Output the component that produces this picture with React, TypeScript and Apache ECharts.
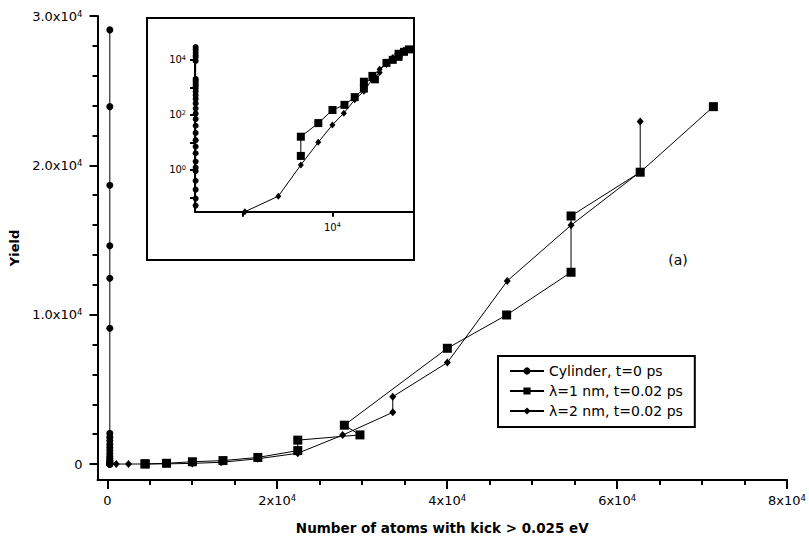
import React, { useEffect, useRef } from 'react';
import * as echarts from 'echarts';

const FONT = 'DejaVu Sans';

// Cylinder, t=0 ps
const cylinderX = [300, 300, 300, 300, 300, 300, 300, 300, 300, 300, 300, 300, 300, 300, 300, 300, 300, 300, 300, 300, 300, 300, 300, 300, 300, 300, 300, 300, 300, 300, 300];
const cylinderY = [29070, 23930, 18670, 14620, 12440, 9090, 2050, 1800, 1550, 1300, 1100, 900, 700, 520, 380, 260, 170, 110, 70, 40, 22, 12, 7, 4, 2, 1.2, 0.9, 0.4, 0.19, 0.09, 0.05];

// λ=1 nm, t=0.02 ps
const lambda1X = [4450, 4450, 6970, 10020, 13620, 17720, 22420, 22420, 29740, 27900, 40020, 47000, 54580, 54580, 62720, 71330];
const lambda1Y = [3.2, 16, 50, 150, 230, 440, 900, 1600, 1950, 2600, 7750, 9980, 12840, 16610, 19540, 23930];

// λ=2 nm, t=0.02 ps
const lambda2X = [1060, 2500, 4450, 6950, 10000, 13400, 17700, 22420, 27700, 33600, 33600, 40020, 47070, 54580, 62720, 62720];
const lambda2Y = [0.03, 0.11, 1.5, 10, 43, 115, 350, 720, 1940, 3460, 4510, 6790, 12260, 15990, 19560, 22930];

const seriesNames = ['Cylinder, t=0 ps', 'λ=1 nm, t=0.02 ps', 'λ=2 nm, t=0.02 ps'];

// Main axes ticks / labels
const xTickValues = [0, 20000, 40000, 60000, 80000];
const xTickLabels = ['0', '2x10^4', '4x10^4', '6x10^4', '8x10^4'];
const xMinorTickValues = [5000, 10000, 15000, 25000, 30000, 35000, 45000, 50000, 55000, 65000, 70000, 75000];
const yTickValues = [0, 10000, 20000, 30000];
const yTickLabels = ['0', '1.0x10^4', '2.0x10^4', '3.0x10^4'];
const yMinorTickValues = [2000, 4000, 6000, 8000, 12000, 14000, 16000, 18000, 22000, 24000, 26000, 28000];

// Inset (log-log) ticks / labels
const insetXTickValues = [1000, 10000];
const insetXLabelValues = [10000];
const insetXLabels = ['10^4'];
const insetYTickValues = [0.1, 1, 10, 100, 1000, 10000];
const insetYLabelValues = [1, 100, 10000];
const insetYLabels = ['10^0', '10^2', '10^4'];

const xAxisName = 'Number of atoms with kick > 0.025 eV';
const yAxisName = 'Yield';
const panelLabel = '(a)';

function toRich(label: string): string {
  const m = label.match(/^(.*)\^(-?\d+)$/);
  if (!m) return `{b|${label}}`;
  return `{b|${m[1]}}{s|${m[2]}}`;
}

function makeFormatter(values: number[], labels: string[]) {
  return (v: number) => {
    for (let i = 0; i < values.length; i++) {
      if (Math.abs(values[i] - v) <= Math.abs(values[i]) * 1e-6 + 1e-9) return toRich(labels[i]);
    }
    return '';
  };
}

function zip(xs: number[], ys: number[]) {
  return xs.map((x, i) => [x, ys[i]]);
}

const mainRich = {
  b: { fontFamily: FONT, fontSize: 13, color: '#000', lineHeight: 14 },
  s: { fontFamily: FONT, fontSize: 8.5, color: '#000', verticalAlign: 'top', lineHeight: 8 },
};
const insetRich = {
  b: { fontFamily: FONT, fontSize: 10, color: '#000', lineHeight: 11 },
  s: { fontFamily: FONT, fontSize: 6.5, color: '#000', verticalAlign: 'top', lineHeight: 6 },
};

const black = '#000';

export default function App() {
  const ref = useRef<HTMLDivElement>(null);

  useEffect(() => {
    document.body.style.margin = '0';
    if (!ref.current) return;
    const chart = echarts.init(ref.current, undefined, { renderer: 'svg' });

    const symbols = ['circle', 'rect', 'diamond'];
    const mainSizes: any[] = [7, 9, [7, 8]];
    const insetSizes: any[] = [6, 8, [6, 7]];
    const datasets = [
      zip(cylinderX, cylinderY),
      zip(lambda1X, lambda1Y),
      zip(lambda2X, lambda2Y),
    ];

    const mainSeries = datasets.map((d, i) => ({
      type: 'line',
      name: seriesNames[i],
      xAxisIndex: 0,
      yAxisIndex: 0,
      data: d,
      symbol: symbols[i],
      symbolSize: mainSizes[i],
      showAllSymbol: true,
      lineStyle: { color: black, width: 1 },
      itemStyle: { color: black },
      color: black,
      silent: true,
      emphasis: { disabled: true },
      z: 3,
    }));

    const insetSeries = datasets.map((d, i) => ({
      type: 'line',
      name: seriesNames[i] + ' (inset)',
      xAxisIndex: 2,
      yAxisIndex: 2,
      data: d.filter((p) => p[0] > 0 && p[1] > 0),
      symbol: symbols[i],
      symbolSize: insetSizes[i],
      showAllSymbol: true,
      lineStyle: { color: black, width: 1 },
      itemStyle: { color: black },
      color: black,
      silent: true,
      emphasis: { disabled: true },
      z: 3,
    }));

    const axisLineStyle = { color: black, width: 2 };

    const option: any = {
      animation: false,
      backgroundColor: '#fff',
      textStyle: { fontFamily: FONT },
      grid: [
        { left: 97.5, top: 16, width: 691.5, height: 464, containLabel: false },
        { left: 195, top: 46.7, width: 218, height: 165, containLabel: false },
      ],
      legend: {
        data: seriesNames,
        orient: 'vertical',
        left: 498,
        top: 356,
        borderColor: black,
        borderWidth: 2,
        padding: [8, 12, 9, 11],
        itemGap: 6,
        itemWidth: 34,
        itemHeight: 9,
        selectedMode: false,
        textStyle: { fontFamily: FONT, fontSize: 14, color: black },
      },
      xAxis: [
        {
          gridIndex: 0,
          type: 'value',
          min: -1150,
          max: 80000,
          position: 'bottom',
          axisLine: { show: true, onZero: false, lineStyle: axisLineStyle },
          axisTick: { show: true, inside: false, length: 9, lineStyle: { color: black, width: 2 }, customValues: xTickValues },
          axisLabel: { show: true, customValues: xTickValues, formatter: makeFormatter(xTickValues, xTickLabels), rich: mainRich, margin: 13 },
          splitLine: { show: false },
          name: xAxisName,
          nameLocation: 'middle',
          nameGap: 41,
          nameTextStyle: { fontFamily: FONT, fontSize: 13.5, fontWeight: 'bold', color: black },
        },
        {
          gridIndex: 0,
          type: 'value',
          min: -1150,
          max: 80000,
          position: 'bottom',
          axisLine: { show: false, onZero: false },
          axisTick: { show: true, inside: false, length: 5, lineStyle: { color: black, width: 2 }, customValues: xMinorTickValues },
          axisLabel: { show: false },
          splitLine: { show: false },
        },
        {
          gridIndex: 1,
          type: 'log',
          logBase: 10,
          min: 295,
          max: 79000,
          position: 'bottom',
          axisLine: { show: true, onZero: false, lineStyle: axisLineStyle },
          axisTick: { show: true, inside: false, length: 5, lineStyle: { color: black, width: 2 }, customValues: insetXTickValues },
          axisLabel: { show: true, customValues: insetXLabelValues, formatter: makeFormatter(insetXLabelValues, insetXLabels), rich: insetRich, margin: 10 },
          splitLine: { show: false },
          minorTick: { show: false },
        },
      ],
      yAxis: [
        {
          gridIndex: 0,
          type: 'value',
          min: -1070,
          max: 30000,
          position: 'left',
          axisLine: { show: true, onZero: false, lineStyle: axisLineStyle },
          axisTick: { show: true, inside: false, length: 8, lineStyle: { color: black, width: 2 }, customValues: yTickValues },
          axisLabel: { show: true, customValues: yTickValues, formatter: makeFormatter(yTickValues, yTickLabels), rich: mainRich, margin: 15 },
          splitLine: { show: false },
          name: yAxisName,
          nameLocation: 'middle',
          nameGap: 74,
          nameRotate: 90,
          nameTextStyle: { fontFamily: FONT, fontSize: 13, fontWeight: 'bold', color: black },
        },
        {
          gridIndex: 0,
          type: 'value',
          min: -1070,
          max: 30000,
          position: 'left',
          axisLine: { show: false, onZero: false },
          axisTick: { show: true, inside: false, length: 5, lineStyle: { color: black, width: 2 }, customValues: yMinorTickValues },
          axisLabel: { show: false },
          splitLine: { show: false },
        },
        {
          gridIndex: 1,
          type: 'log',
          logBase: 10,
          min: 0.03,
          max: 30000,
          position: 'left',
          axisLine: { show: true, onZero: false, lineStyle: axisLineStyle },
          axisTick: { show: true, inside: false, length: 5, lineStyle: { color: black, width: 2 }, customValues: insetYTickValues },
          axisLabel: { show: true, customValues: insetYLabelValues, formatter: makeFormatter(insetYLabelValues, insetYLabels), rich: insetRich, margin: 9 },
          splitLine: { show: false },
          minorTick: { show: false },
        },
      ],
      graphic: [
        {
          type: 'rect',
          shape: { x: 147, y: 18, width: 267, height: 242 },
          style: { fill: 'none', stroke: black, lineWidth: 2 },
          silent: true,
          z: 10,
        },
        {
          type: 'text',
          x: 678,
          y: 260,
          style: { text: panelLabel, fontFamily: FONT, fontSize: 14, fill: black, align: 'center', verticalAlign: 'middle' },
          silent: true,
        },
      ],
      series: [...mainSeries, ...insetSeries],
    };

    chart.setOption(option);
    return () => chart.dispose();
  }, []);

  return <div ref={ref} style={{ width: 809, height: 541 }} />;
}
